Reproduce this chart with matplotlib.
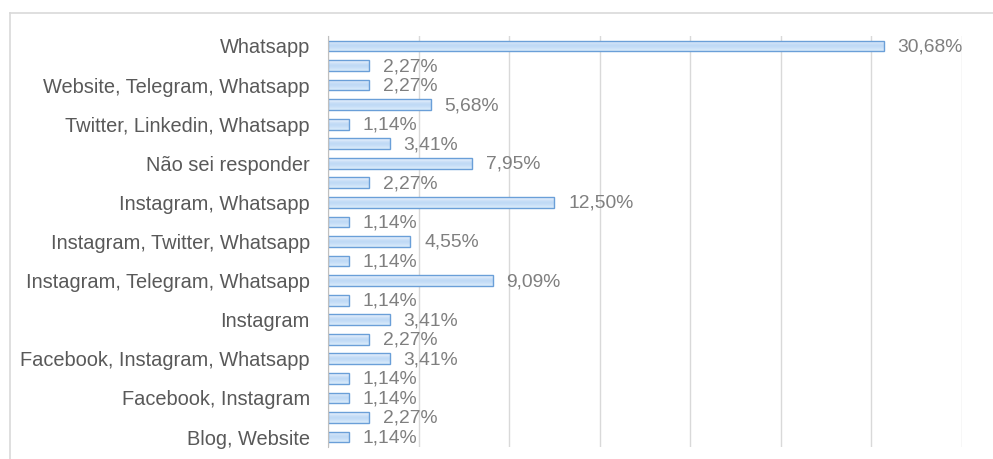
import numpy as np
import matplotlib.pyplot as plt
from matplotlib.lines import Line2D

# categories (Excel hides every second label, so those are blank)
categories = ["Whatsapp", "", "Website, Telegram, Whatsapp", "",
              "Twitter, Linkedin, Whatsapp", "", "Não sei responder", "",
              "Instagram, Whatsapp", "", "Instagram, Twitter, Whatsapp", "",
              "Instagram, Telegram, Whatsapp", "", "Instagram", "",
              "Facebook, Instagram, Whatsapp", "", "Facebook, Instagram", "",
              "Blog, Website"]
values = [30.68, 2.27, 2.27, 5.68, 1.14, 3.41, 7.95, 2.27, 12.50, 1.14,
          4.55, 1.14, 9.09, 1.14, 3.41, 2.27, 3.41, 1.14, 1.14, 2.27, 1.14]
xticks = [0, 5, 10, 15, 20, 25, 30, 35]

plt.rcParams['font.family'] = ['Liberation Sans', 'DejaVu Sans']

fig = plt.figure(figsize=(9.93, 4.59), dpi=100)
ax = fig.add_axes([328 / 993, 1 - 446.8 / 459, (962 - 328) / 993, (446.8 - 36.2) / 459])

y = np.arange(len(values))
bh = 0.55
bars = ax.barh(y, values, height=bh, color='none', edgecolor='#6a9fd8', linewidth=1.0, zorder=3)

# vertical gradient inside each bar
grad = np.array([[0.92, 0.95, 0.99], [0.80, 0.88, 0.97], [0.74, 0.85, 0.96],
                 [0.78, 0.87, 0.97], [0.85, 0.92, 0.98]])[:, None, :]
for b, yi, v in zip(bars, y, values):
    im = ax.imshow(grad, extent=(0, v, yi + bh / 2, yi - bh / 2),
                   aspect='auto', interpolation='bicubic', zorder=2)
    im.set_clip_path(b)

for yi, v in zip(y, values):
    ax.text(v + 0.75, yi + 0.05, f"{v:.2f}%".replace('.', ','), va='center', ha='left',
            fontsize=13.9, color='#7f7f7f', zorder=4)

ax.set_xlim(0, 35)
ax.set_ylim(len(values) - 0.5, -0.5)
ax.set_xticks(xticks)
ax.set_xticklabels([])
ax.set_yticks(y)
ax.set_yticklabels(categories, fontsize=14.4, color='#595959')
ax.tick_params(axis='both', length=0)
ax.tick_params(axis='y', pad=13)
ax.grid(axis='x', color='#d9d9d9', linewidth=1.0, zorder=0)
for s in ['top', 'right', 'bottom']:
    ax.spines[s].set_visible(False)
ax.spines['left'].set_color('#bfbfbf')
ax.spines['left'].set_zorder(3)

# chart area border (cut off at right and bottom)
fig.add_artist(Line2D([10 / 993, 10 / 993], [0, 1 - 13 / 459], color='#d9d9d9', lw=1.2))
fig.add_artist(Line2D([10 / 993, 1], [1 - 13 / 459, 1 - 13 / 459], color='#d9d9d9', lw=1.2))

fig.savefig('out.png', dpi=100)
